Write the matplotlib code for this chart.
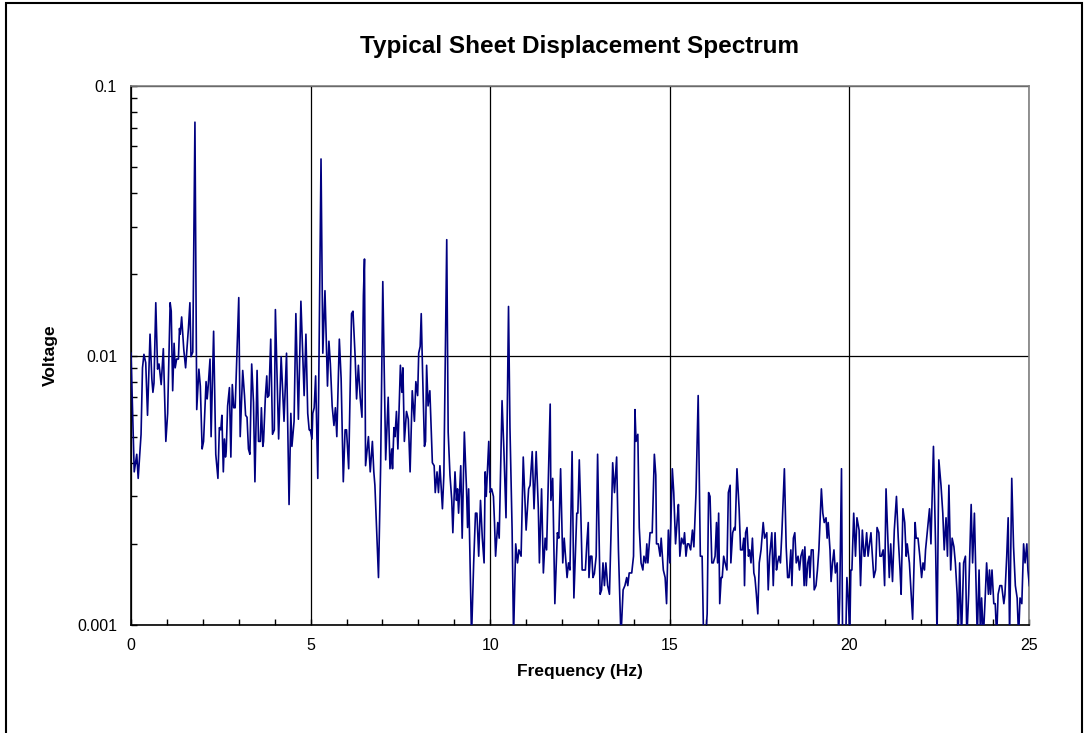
import matplotlib
matplotlib.use("Agg")
import matplotlib.pyplot as plt
import numpy as np
from matplotlib.patches import Rectangle
from matplotlib.ticker import FixedLocator, LogLocator, NullFormatter

plt.rcParams["font.family"] = ["Liberation Sans", "DejaVu Sans"]

# values (Hz, volts)
freq_hz = [
    0.00, 0.09, 0.16, 0.20, 0.28, 0.32, 0.36, 0.41, 0.46, 0.53, 0.58, 0.61, 0.64, 0.69, 0.74, 0.78,
    0.84, 0.90, 0.97, 1.02, 1.09, 1.12, 1.16, 1.20, 1.23, 1.27, 1.32, 1.35, 1.37, 1.41, 1.47, 1.52,
    1.60, 1.64, 1.67, 1.72, 1.78, 1.83, 1.89, 1.93, 1.98, 2.02, 2.09, 2.12, 2.14, 2.20, 2.23, 2.30,
    2.36, 2.42, 2.46, 2.50, 2.53, 2.57, 2.60, 2.63, 2.65, 2.69, 2.74, 2.78, 2.82, 2.86, 2.90, 3.00,
    3.04, 3.11, 3.16, 3.19, 3.23, 3.27, 3.31, 3.36, 3.41, 3.45, 3.51, 3.55, 3.60, 3.63, 3.67, 3.69,
    3.74, 3.78, 3.80, 3.84, 3.89, 3.94, 3.99, 4.02, 4.11,
    4.18, 4.26, 4.33, 4.40, 4.45, 4.48, 4.54, 4.59, 4.66, 4.73, 4.82, 4.87, 4.92, 4.96, 4.99, 5.04,
    5.06, 5.10, 5.14, 5.20, 5.29, 5.34, 5.40, 5.47, 5.51, 5.55, 5.60, 5.65, 5.69, 5.73, 5.80, 5.85,
    5.91, 5.96, 6.00, 6.06, 6.14, 6.18, 6.24, 6.28, 6.33, 6.38, 6.43, 6.47, 6.50, 6.53, 6.61, 6.66,
    6.72, 6.76, 6.79, 6.84, 6.89, 6.95, 7.01, 7.09, 7.16, 7.21, 7.26, 7.28, 7.32, 7.35, 7.39, 7.43,
    7.50, 7.54, 7.57, 7.61, 7.67, 7.72, 7.77, 7.83, 7.89, 7.93, 7.98, 8.01, 8.05, 8.08, 8.12, 8.17,
    8.20, 8.23, 8.27, 8.32,
    8.39, 8.44, 8.47, 8.52, 8.56, 8.60, 8.67, 8.71, 8.79, 8.83, 8.88, 8.93, 8.96, 9.02, 9.06, 9.09,
    9.12, 9.18, 9.22, 9.28, 9.34, 9.37, 9.40, 9.48, 9.54, 9.59, 9.63, 9.68, 9.73, 9.78, 9.83, 9.86,
    9.89, 9.96, 10.00, 10.04, 10.09, 10.12, 10.15, 10.21, 10.25, 10.33, 10.38, 10.44, 10.51, 10.55,
    10.61, 10.65, 10.71, 10.76, 10.80, 10.86, 10.92, 11.00, 11.07, 11.11, 11.17, 11.22, 11.28, 11.34,
    11.37, 11.43, 11.48, 11.53, 11.57, 11.67, 11.69, 11.74, 11.80, 11.87, 11.91, 11.96, 12.02, 12.06,
    12.14, 12.18, 12.22, 12.28, 12.33, 12.41, 12.44, 12.48,
    12.52, 12.56, 12.61, 12.65, 12.69, 12.73, 12.75, 12.79, 12.83, 12.86, 12.90, 12.95, 12.99, 13.06,
    13.10, 13.14, 13.18, 13.22, 13.27, 13.32, 13.36, 13.41, 13.46, 13.52, 13.57, 13.64, 13.70, 13.75,
    13.80, 13.83, 13.87, 13.94, 13.99, 14.03, 14.06, 14.11, 14.15, 14.20, 14.25, 14.28, 14.33, 14.36,
    14.39, 14.45, 14.51, 14.57, 14.61, 14.63, 14.68, 14.73, 14.76, 14.82, 14.87, 14.91, 14.96, 15.00,
    15.03, 15.07, 15.11, 15.16, 15.21, 15.24, 15.28, 15.33, 15.38, 15.41, 15.45, 15.49, 15.53, 15.58,
    15.63, 15.67, 15.73, 15.79, 15.85, 15.90, 15.94, 16.00, 16.04, 16.08, 16.12, 16.17, 16.21, 16.26,
    16.30, 16.33, 16.36, 16.39, 16.43, 16.46, 16.50, 16.54, 16.59, 16.63, 16.68,
    16.70, 16.75, 16.80, 16.82, 16.87, 16.93, 16.97, 17.02, 17.06, 17.08, 17.11, 17.15, 17.19, 17.22,
    17.26, 17.30, 17.34, 17.37, 17.41, 17.45, 17.49, 17.54, 17.60, 17.64, 17.70, 17.74, 17.78, 17.84,
    17.88, 17.93, 17.97, 18.00, 18.04, 18.08, 18.12, 18.19, 18.24, 18.28, 18.32, 18.37, 18.40, 18.44,
    18.48, 18.52, 18.57, 18.61, 18.65, 18.70, 18.74, 18.76, 18.80, 18.84, 18.88, 18.90, 18.94, 18.99,
    19.02, 19.07, 19.11, 19.15, 19.22, 19.26, 19.30, 19.35, 19.38, 19.41, 19.46, 19.49, 19.53, 19.57,
    19.61, 19.66, 19.70, 19.73, 19.78, 19.81, 19.86, 19.90, 19.93, 19.97, 20.01, 20.04, 20.07, 20.12,
    20.17, 20.21, 20.27, 20.31, 20.36, 20.41, 20.43, 20.48, 20.52, 20.56, 20.60, 20.64, 20.68, 20.73,
    20.77, 20.82, 20.85,
    20.89, 20.94, 20.98, 21.02, 21.07, 21.11, 21.15, 21.20, 21.25, 21.31, 21.36, 21.41, 21.44, 21.49,
    21.54, 21.58, 21.61, 21.67, 21.72, 21.76, 21.83, 21.86, 21.91, 21.96, 22.01, 22.05, 22.09, 22.12,
    22.18, 22.23, 22.27, 22.34, 22.40, 22.44, 22.49, 22.55, 22.60, 22.64, 22.69, 22.73, 22.77, 22.82,
    22.86, 22.91, 22.95, 23.00, 23.03, 23.07, 23.12, 23.18, 23.23, 23.27, 23.32, 23.39, 23.43, 23.48,
    23.52, 23.56, 23.61, 23.65, 23.68, 23.73, 23.78, 23.82, 23.87, 23.90, 23.93, 23.97, 24.02, 24.06,
    24.10, 24.14, 24.19, 24.24, 24.30, 24.33, 24.38, 24.42, 24.46, 24.52, 24.57, 24.62, 24.67, 24.71,
    24.75, 24.80, 24.85, 24.89, 24.94, 24.97, 25.01,
]

voltage = [
    0.0102, 0.0037, 0.0043, 0.0035, 0.0051, 0.0090, 0.0101, 0.0094, 0.0060, 0.0120, 0.0082, 0.0073,
    0.0079, 0.0157, 0.0089, 0.0093, 0.0078, 0.0106, 0.0048, 0.0061, 0.0157, 0.0146, 0.0074, 0.0111,
    0.0090, 0.0097, 0.0097, 0.0126, 0.0120, 0.0139, 0.0105, 0.0090, 0.0127, 0.0157, 0.0099, 0.0103,
    0.0734, 0.0063, 0.0089, 0.0077, 0.0045, 0.0048, 0.0080, 0.0069, 0.0074, 0.0097, 0.0050, 0.0123,
    0.0043, 0.0035, 0.0054, 0.0053, 0.0060, 0.0037, 0.0049, 0.0042, 0.0044, 0.0065, 0.0076, 0.0042,
    0.0078, 0.0064, 0.0064, 0.0164, 0.0050, 0.0088, 0.0071, 0.0060, 0.0059, 0.0045, 0.0043, 0.0093,
    0.0067, 0.0034, 0.0088, 0.0048, 0.0048, 0.0064, 0.0046, 0.0048, 0.0070, 0.0084, 0.0070, 0.0071,
    0.0115, 0.0051, 0.0053, 0.0148, 0.0049,
    0.0099, 0.0057, 0.0102, 0.0028, 0.0061, 0.0046, 0.0057, 0.0143, 0.0058, 0.0159, 0.0071, 0.0120,
    0.0061, 0.0053, 0.0053, 0.0049, 0.0061, 0.0064, 0.0084, 0.0035, 0.0536, 0.0102, 0.0174, 0.0077,
    0.0113, 0.0093, 0.0065, 0.0055, 0.0064, 0.0050, 0.0115, 0.0082, 0.0034, 0.0053, 0.0053, 0.0038,
    0.0143, 0.0146, 0.0099, 0.0069, 0.0092, 0.0070, 0.0059, 0.0167, 0.0228, 0.0039, 0.0050, 0.0037,
    0.0048, 0.0037, 0.0033, 0.00225, 0.0015, 0.0039, 0.0188, 0.0041, 0.0070, 0.0038, 0.0045, 0.0038,
    0.0054, 0.0050, 0.0062, 0.0045, 0.0092, 0.0073, 0.0090, 0.0048, 0.0062, 0.0058, 0.0037, 0.0074,
    0.0057, 0.0080, 0.0071, 0.0102, 0.0108, 0.0143, 0.0084, 0.0046, 0.0048, 0.0092, 0.0065, 0.0074,
    0.0040, 0.0039, 0.0031, 0.0037, 0.0031, 0.0039, 0.0027, 0.0036, 0.0269, 0.0052, 0.0036, 0.0029,
    0.0022, 0.0037, 0.0029, 0.0032, 0.0026, 0.0039, 0.0021, 0.0052, 0.0032, 0.0023, 0.0032, 0.0009,
    0.0017, 0.0026, 0.0026, 0.0018, 0.0029, 0.0021, 0.0017, 0.0037, 0.0030, 0.0048, 0.0031, 0.0032,
    0.0030, 0.0024, 0.0018, 0.0024, 0.0021, 0.0068, 0.0045, 0.0025, 0.0152, 0.0054, 0.00225, 0.0009,
    0.0020, 0.0017, 0.0019, 0.0018, 0.0042, 0.00225, 0.0032, 0.0033, 0.0044, 0.0027, 0.0044, 0.0027,
    0.0017, 0.0032, 0.00156, 0.0021, 0.0019, 0.0066, 0.0029, 0.0035, 0.0012, 0.0022, 0.0021, 0.0038,
    0.0017, 0.0021, 0.0015, 0.0017, 0.0016, 0.0044, 0.00126, 0.0026, 0.0026, 0.0041,
    0.0027, 0.0016, 0.0016, 0.0016, 0.0020, 0.0024, 0.0015, 0.0018, 0.0018, 0.0015, 0.00155, 0.0018,
    0.0043, 0.0013, 0.00135, 0.0017, 0.0014, 0.0017, 0.0014, 0.0013, 0.0021, 0.0040, 0.0031, 0.0042,
    0.0019, 0.0009, 0.00135, 0.0014, 0.0015, 0.0014, 0.00156, 0.00156, 0.0018, 0.0063, 0.0048, 0.0051,
    0.0023, 0.0017, 0.0016, 0.0018, 0.0017, 0.0020, 0.0017, 0.0022, 0.0022, 0.0043, 0.0036, 0.0020,
    0.0020, 0.0018, 0.0021, 0.0016, 0.0015, 0.0012, 0.00225, 0.0017, 0.0024, 0.0038, 0.0031, 0.0020,
    0.0025, 0.0028, 0.0018, 0.0021, 0.0020, 0.0022, 0.0018, 0.0020, 0.0020, 0.0019, 0.00225, 0.00195,
    0.0031, 0.0071, 0.0018, 0.0018, 0.0009, 0.0009, 0.0011, 0.0031, 0.0030, 0.0017, 0.0017, 0.0018,
    0.0024, 0.0017, 0.0026, 0.0012, 0.0015, 0.0015, 0.0018, 0.0017, 0.0016, 0.0031, 0.0033,
    0.0017, 0.0022, 0.0023, 0.00225, 0.0038, 0.0027, 0.0019, 0.0019, 0.0021, 0.0014, 0.0022, 0.0023,
    0.0018, 0.0019, 0.0017, 0.0021, 0.00156, 0.0015, 0.0013, 0.0011, 0.0017, 0.0019, 0.0024, 0.0021,
    0.0022, 0.00135, 0.0018, 0.0022, 0.0014, 0.0022, 0.0016, 0.0017, 0.0018, 0.0017, 0.0022, 0.0038,
    0.00195, 0.0015, 0.0015, 0.0019, 0.0014, 0.0021, 0.0022, 0.0017, 0.0018, 0.0016, 0.0018, 0.0019,
    0.0014, 0.00195, 0.0014, 0.0017, 0.0018, 0.0015, 0.0019, 0.0019, 0.00135, 0.0014, 0.0016, 0.0019,
    0.0032, 0.0026, 0.0024, 0.0025, 0.0021, 0.0024, 0.0019, 0.00145, 0.0017, 0.0019, 0.00156, 0.0017,
    0.0009, 0.00126, 0.0038, 0.0009, 0.0009, 0.0009, 0.0015, 0.00126, 0.0009, 0.0016, 0.0016, 0.0026,
    0.0018, 0.0025, 0.00225, 0.0014, 0.00225, 0.0018, 0.0018, 0.0022, 0.0018, 0.0020, 0.0022, 0.0018,
    0.0015, 0.0016, 0.0023, 0.0022, 0.0018,
    0.0018, 0.0019, 0.0014, 0.0032, 0.0021, 0.0015, 0.0020, 0.00145, 0.00225, 0.0030, 0.0021, 0.0016,
    0.0013, 0.0027, 0.0024, 0.0018, 0.0020, 0.0017, 0.0013, 0.00105, 0.0024, 0.0021, 0.0021, 0.0018,
    0.0015, 0.0017, 0.0016, 0.0019, 0.0023, 0.0027, 0.0020, 0.0046, 0.00195, 0.0009, 0.0041, 0.0033,
    0.0026, 0.0019, 0.0025, 0.0018, 0.0033, 0.0016, 0.0021, 0.00195, 0.0017, 0.0013, 0.0009, 0.0017,
    0.0009, 0.0017, 0.0018, 0.0009, 0.0013, 0.0028, 0.0017, 0.0026, 0.0015, 0.0009, 0.0016, 0.0009,
    0.00126, 0.0009, 0.00126, 0.0017, 0.0013, 0.0016, 0.0013, 0.0016, 0.0012, 0.0012, 0.0009, 0.0013,
    0.0014, 0.0014, 0.0012, 0.0013, 0.0018, 0.0025, 0.0009, 0.0035, 0.00195, 0.0014, 0.00126, 0.0009,
    0.00126, 0.0012, 0.0020, 0.0017, 0.0020, 0.0016, 0.0014,
]

x_ticks = [0, 5, 10, 15, 20, 25]
x_tick_labels = ["0", "5", "10", "15", "20", "25"]
y_ticks = [0.001, 0.01, 0.1]
y_tick_labels = ["0.001", "0.01", "0.1"]

fig = plt.figure(figsize=(10.87, 7.33), dpi=100)
ax = fig.add_axes([131 / 1087, 108 / 733, 898 / 1087, 539 / 733])

ax.plot(freq_hz, voltage, color="#000080", lw=1.2, zorder=3)

ax.set_yscale("log")
ax.set_xlim(0, 25)
ax.set_ylim(0.001, 0.1)

ax.xaxis.set_major_locator(FixedLocator(x_ticks))
ax.set_xticklabels(x_tick_labels)
ax.xaxis.set_minor_locator(FixedLocator(np.arange(0, 26, 1)))
ax.yaxis.set_major_locator(FixedLocator(y_ticks))
ax.set_yticklabels(y_tick_labels)
ax.yaxis.set_minor_locator(LogLocator(base=10, subs=np.arange(2, 10)))
ax.yaxis.set_minor_formatter(NullFormatter())

ax.tick_params(which="both", direction="in", labelsize=11.5, color="black")
ax.tick_params(which="major", length=4, width=1)
ax.tick_params(which="minor", length=4, width=1)
ax.tick_params(axis="x", pad=9)
ax.tick_params(axis="y", pad=10)

ax.grid(True, which="major", color="black", lw=0.9)

for side in ("left", "bottom"):
    ax.spines[side].set_color("black")
    ax.spines[side].set_linewidth(1.2)
for side in ("top", "right"):
    ax.spines[side].set_color("#808080")
    ax.spines[side].set_linewidth(1.2)

ax.set_title("Typical Sheet Displacement Spectrum", fontsize=17.5, fontweight="bold", pad=24)
ax.set_xlabel("Frequency (Hz)", fontsize=12.5, fontweight="bold", labelpad=8)
ax.set_ylabel("Voltage", fontsize=12.5, fontweight="bold", labelpad=14)

# outer chart-area frame
fig.patches.append(Rectangle((6 / 1087, -0.05), 1076 / 1087, 1.05 - 3 / 733,
                             transform=fig.transFigure, fill=False,
                             edgecolor="black", lw=1.5, zorder=0))

fig.savefig("out.png", dpi=100)
